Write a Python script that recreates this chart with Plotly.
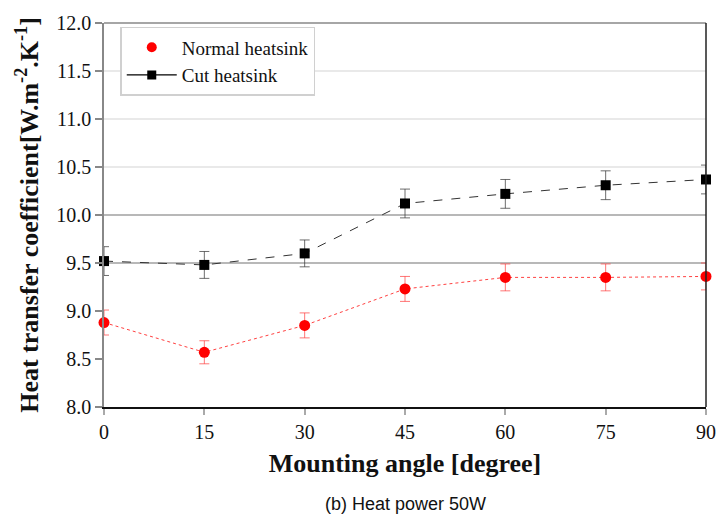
import plotly.graph_objects as go

# Mounting angle (degrees)
angles = [0, 15, 30, 45, 60, 75, 90]

# Heat transfer coefficient, W.m-2.K-1
normal_h = [8.88, 8.57, 8.85, 9.23, 9.35, 9.35, 9.36]
normal_err = [0.13, 0.12, 0.13, 0.13, 0.14, 0.14, 0.14]

cut_h = [9.52, 9.48, 9.60, 10.12, 10.22, 10.31, 10.37]
cut_err = [0.15, 0.14, 0.14, 0.15, 0.15, 0.15, 0.15]

y_ticks = [8.0, 8.5, 9.0, 9.5, 10.0, 10.5, 11.0, 11.5, 12.0]
x_ticks = [0, 15, 30, 45, 60, 75, 90]

serif = "Liberation Serif, Times New Roman, serif"

fig = go.Figure()

fig.add_trace(go.Scatter(
    x=angles, y=normal_h, name="Normal heatsink", mode="lines+markers",
    line=dict(color="rgba(255,0,0,0.75)", width=1, dash="dot"),
    marker=dict(symbol="circle", size=11, color="#ff0000"),
    error_y=dict(type="data", array=normal_err, visible=True,
                 color="rgba(255,60,60,0.7)", thickness=1, width=5),
    cliponaxis=False, showlegend=False,
))

fig.add_trace(go.Scatter(
    x=angles, y=cut_h, name="Cut heatsink", mode="lines+markers",
    line=dict(color="#333333", width=1, dash="dash"),
    marker=dict(symbol="square", size=10, color="#000000"),
    error_y=dict(type="data", array=cut_err, visible=True,
                 color="rgba(60,60,60,0.75)", thickness=1, width=5),
    cliponaxis=False, showlegend=False,
))

# legend keys: plain red dot, black square on a solid line
fig.add_trace(go.Scatter(
    x=[None], y=[None], name="Normal heatsink", mode="markers",
    marker=dict(symbol="circle", size=10, color="#ff0000"),
))
fig.add_trace(go.Scatter(
    x=[None], y=[None], name="Cut heatsink", mode="lines+markers",
    line=dict(color="#000000", width=1.2),
    marker=dict(symbol="square", size=9, color="#000000"),
))

# grid lines in the upper half of the axis
for yv, col in [(9.5, "#a0a0a0"), (10.0, "#a0a0a0"), (10.5, "#e2e2e2"),
                (11.0, "#e2e2e2"), (11.5, "#e2e2e2")]:
    fig.add_shape(type="line", xref="paper", yref="y", x0=0, x1=1,
                  y0=yv, y1=yv, line=dict(color=col, width=1.5), layer="below")

# frame: gray top border, dark right border
fig.add_shape(type="line", xref="paper", yref="paper", x0=0, x1=1, y0=1, y1=1,
              line=dict(color="#888888", width=1.5))
fig.add_shape(type="line", xref="paper", yref="paper", x0=1, x1=1, y0=0, y1=1,
              line=dict(color="#222222", width=1.5))

fig.update_layout(
    width=728, height=518,
    margin=dict(l=104, r=15, t=16, b=111),
    paper_bgcolor="white", plot_bgcolor="white",
    font=dict(family=serif, size=20, color="#111111"),
    showlegend=True,
    legend=dict(
        x=0.027, y=0.99, xanchor="left", yanchor="top",
        bgcolor="rgba(255,255,255,1)", bordercolor="#d0d0d0", borderwidth=1.5,
        font=dict(family=serif, size=19, color="#111111"),
        itemwidth=50, tracegroupgap=0,
    ),
    xaxis=dict(
        range=[0, 90], tickvals=x_ticks, ticktext=[str(v) for v in x_ticks],
        showgrid=False, zeroline=False,
        showline=True, linecolor="#111111", linewidth=1.5,
        ticks="outside", ticklen=6, tickcolor="#aaaaaa", tickwidth=1.5,
        tickfont=dict(family=serif, size=20),
        title=dict(text="<b>Mounting angle [degree]</b>",
                   font=dict(family=serif, size=26, color="#111111"), standoff=12),
    ),
    yaxis=dict(
        range=[8.0, 12.0], tickvals=y_ticks,
        ticktext=[f"{v:.1f}" for v in y_ticks],
        showgrid=False, zeroline=False,
        showline=True, linecolor="#888888", linewidth=1.5,
        ticks="outside", ticklen=7, tickcolor="#888888", tickwidth=1.5,
        tickfont=dict(family=serif, size=20),
        title=dict(text="<b>Heat transfer coefficient[W.m<sup>-2</sup>.K<sup>-1</sup>]</b>",
                   font=dict(family=serif, size=26, color="#111111"), standoff=10),
    ),
)

fig.add_annotation(
    text="(b) Heat power 50W", xref="paper", yref="paper",
    x=0.5, y=-0.222, xanchor="center", yanchor="top", showarrow=False,
    font=dict(family="Liberation Sans, Arial, sans-serif", size=18, color="#111111"),
)

fig.write_html("out.html")
